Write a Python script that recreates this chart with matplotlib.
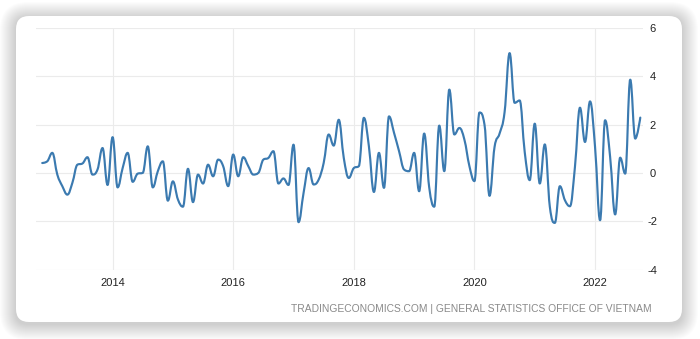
import numpy as np
import pandas as pd
import matplotlib
matplotlib.use("Agg")
import matplotlib.pyplot as plt
from matplotlib.path import Path
from matplotlib.patches import PathPatch, FancyBboxPatch

plt.rcParams['axes.unicode_minus'] = False
plt.rcParams['font.family'] = ['Liberation Sans', 'DejaVu Sans']

# Monthly readings, Nov 2012 .. Oct 2022
start_month = '2012-11-01'
values = [
    0.41, 0.48, 0.83, -0.07, -0.55, -0.90, -0.41, 0.34, 0.39, 0.65, -0.07, 0.14,
    1.03, -0.50, 1.48, -0.60, 0.20, 0.83, -0.37, -0.03, 0.00, 1.10, -0.60, 0.07,
    0.48, -1.15, -0.35, -1.10, -1.40, 0.17, -1.21, -0.07, -0.44, 0.34, -0.14, 0.55,
    0.28, -0.55, 0.76, -0.14, 0.65, 0.28, -0.07, 0.00, 0.55, 0.62, 0.90, -0.44,
    -0.23, -0.50, 1.17, -2.04, -0.83, 0.20, -0.48, -0.28, 0.41, 1.59, 1.13, 2.20,
    0.62, -0.21, 0.20, 0.28, 2.28, 1.10, -0.79, 0.83, -0.62, 2.34, 1.66, 0.90,
    0.14, 0.07, 0.83, -0.76, 1.63, -0.60, -1.40, 1.96, 0.07, 3.45, 1.59, 1.86,
    1.38, 0.28, -0.34, 2.50, 2.00, -0.95, 1.07, 1.63, 2.52, 4.96, 2.90, 3.00,
    0.87, -0.30, 2.04, -0.44, 1.18, -1.40, -2.07, -0.55, -1.13, -1.38, 0.25, 2.70,
    1.28, 2.96, 1.07, -1.96, 2.18, 0.66, -1.72, 0.63, -0.03, 3.86, 1.42, 2.29,
]
year_ticks = [2014, 2016, 2018, 2020, 2022]
value_ticks = [-4, -2, 0, 2, 4, 6]
source_text = 'TRADINGECONOMICS.COM | GENERAL STATISTICS OFFICE OF VIETNAM'

dates = pd.date_range(start_month, periods=len(values), freq='MS')
x = (dates.year + (dates.month - 1) / 12.0).to_numpy(dtype=float)
y = np.array(values, dtype=float)


def spline_path(xs, ys, smoothing=1.5):
    # cubic bezier spline with clamped control points (no overshoot at extremes)
    n = len(xs)
    lx, ly = xs.copy(), ys.copy()
    rx, ry = xs.copy(), ys.copy()
    d = smoothing + 1
    for i in range(1, n - 1):
        px, py = xs[i], ys[i]
        ax_, ay = xs[i - 1], ys[i - 1]
        bx, by = xs[i + 1], ys[i + 1]
        lcx = (smoothing * px + ax_) / d
        lcy = (smoothing * py + ay) / d
        rcx = (smoothing * px + bx) / d
        rcy = (smoothing * py + by) / d
        corr = (rcy - lcy) * (rcx - px) / (rcx - lcx) + py - rcy
        lcy += corr
        rcy += corr
        if lcy > ay and lcy > py:
            lcy = max(ay, py)
            rcy = 2 * py - lcy
        elif lcy < ay and lcy < py:
            lcy = min(ay, py)
            rcy = 2 * py - lcy
        if rcy > by and rcy > py:
            rcy = max(by, py)
            lcy = 2 * py - rcy
        elif rcy < by and rcy < py:
            rcy = min(by, py)
            lcy = 2 * py - rcy
        lx[i], ly[i], rx[i], ry[i] = lcx, lcy, rcx, rcy
    verts = [(xs[0], ys[0])]
    codes = [Path.MOVETO]
    for i in range(1, n):
        verts += [(rx[i - 1], ry[i - 1]), (lx[i], ly[i]), (xs[i], ys[i])]
        codes += [Path.CURVE4] * 3
    return Path(verts, codes)


W, H = 700, 339
fig = plt.figure(figsize=(W / 100, H / 100), dpi=100)
fig.patch.set_facecolor('white')

# card with soft shadow (pixel units, origin bottom-left)
cx0, cy0, cw, ch = 16, 17, 666, 306
for k in range(16, 0, -1):
    sh = FancyBboxPatch((cx0 / 100, (cy0 - 2) / 100), cw / 100, ch / 100,
                        boxstyle=f"round,pad={k / 100},rounding_size={(12 + k) / 100}",
                        transform=fig.dpi_scale_trans, facecolor='black',
                        edgecolor='none', alpha=0.013, zorder=0)
    fig.patches.append(sh)
card = FancyBboxPatch((cx0 / 100, cy0 / 100), cw / 100, ch / 100,
                      boxstyle="round,pad=0,rounding_size=0.13",
                      transform=fig.dpi_scale_trans, facecolor='white',
                      edgecolor='none', zorder=1)
fig.patches.append(card)

left, right, top, bottom = 36, 643, 28, 269.5
ax = fig.add_axes([left / W, 1 - bottom / H, (right - left) / W, (bottom - top) / H])
ax.set_facecolor('none')
ax.set_zorder(2)

line = PathPatch(spline_path(x, y), facecolor='none', edgecolor='#3b7ab0',
                 linewidth=1.55, capstyle='round', joinstyle='round')
ax.add_patch(line)

ax.set_xlim(2012.73, 2022.795)
ax.set_ylim(-4, 6)
ax.set_xticks(year_ticks)
ax.set_xticklabels([str(t) for t in year_ticks])
ax.set_yticks(value_ticks)
ax.yaxis.tick_right()
ax.set_yticklabels([str(t) for t in value_ticks])
for lbl in ax.get_yticklabels():
    lbl.set_horizontalalignment('center')
ax.tick_params(axis='both', length=0, labelsize=8, labelcolor='#222222')
ax.tick_params(axis='x', pad=6)
ax.tick_params(axis='y', pad=7)
ax.grid(True, color='#ebebeb', linewidth=0.8)
ax.set_axisbelow(True)
for s in ax.spines.values():
    s.set_visible(False)

fig.text(652 / W, 1 - 309 / H, source_text, ha='right', va='center',
         fontsize=7.4, color='#8a8a8a')

fig.savefig('out.png', dpi=100)
